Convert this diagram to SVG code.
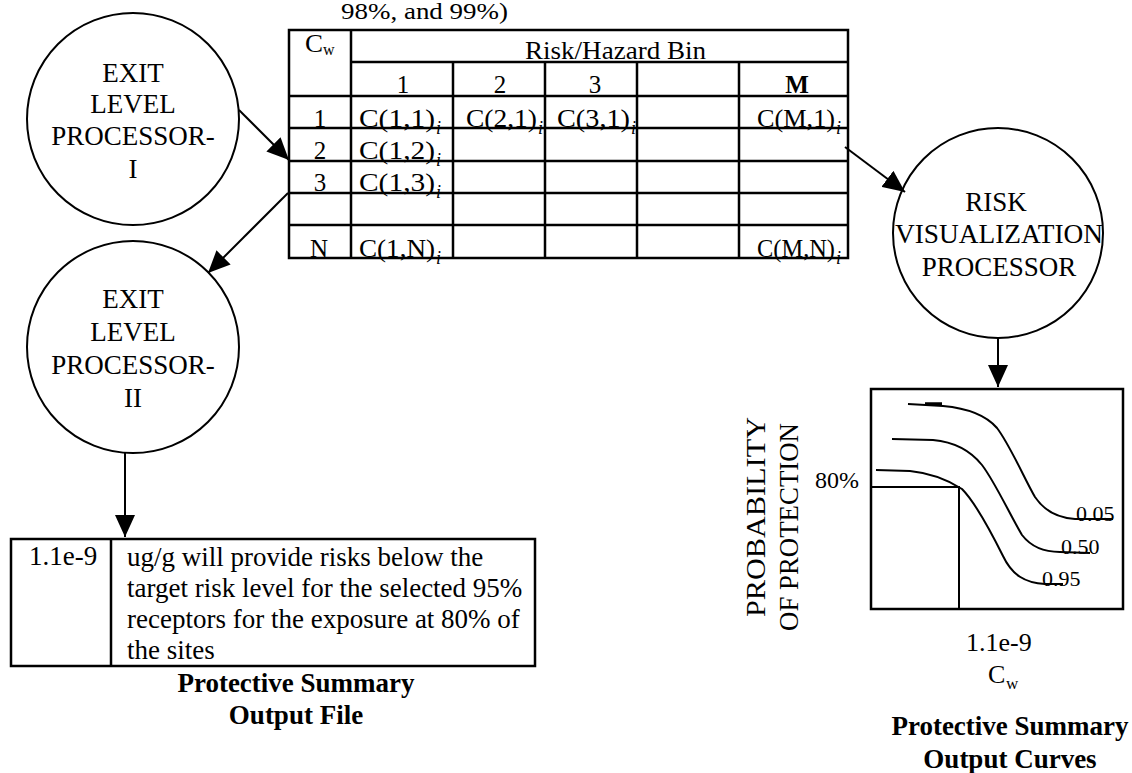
<svg xmlns="http://www.w3.org/2000/svg" width="1132" height="773" viewBox="0 0 1132 773" font-family="'Liberation Serif', 'Times New Roman', serif">
<style>
text{font-family:'Liberation Serif','Times New Roman',serif;fill:#000}
.t{font-size:25px}
.c{font-size:27px;text-anchor:middle}
.sub{font-size:18px;font-style:italic}
.b{font-size:27px;font-weight:bold;text-anchor:middle}
.tl{stroke:#000;stroke-width:2.5;fill:none}
.ln{stroke:#000;stroke-width:2;fill:none}
.cv{stroke:#000;stroke-width:2;fill:none;stroke-linejoin:round}
</style>
<defs>
<marker id="ah" markerWidth="22" markerHeight="20" refX="22" refY="10" orient="auto" markerUnits="userSpaceOnUse"><path d="M0,0 L22,10 L0,20 Z" fill="#000"/></marker>
</defs>
<rect width="1132" height="773" fill="#fff"/>

<g id="title"><text font-size="24" x="341" y="19" textLength="167" lengthAdjust="spacingAndGlyphs">98%, and 99%)</text></g>

<g id="table">
<path class="tl" d="M289,30 H848 V258 H289 Z M351,30 V258 M351,62 H848 M453,62 V258 M545,62 V258 M637,62 V258 M739,62 V258 M289,96 H848 M289,128 H848 M289,161 H848 M289,193 H848 M289,225 H848"/>
<text class="t" x="305" y="52" textLength="18" lengthAdjust="spacingAndGlyphs">C</text><text x="323" y="55" font-size="16">w</text>
<text class="t" x="525" y="59" textLength="181" lengthAdjust="spacingAndGlyphs">Risk/Hazard Bin</text>
<text class="t" x="403" y="93" text-anchor="middle">1</text>
<text class="t" x="500" y="93" text-anchor="middle">2</text>
<text class="t" x="595" y="93" text-anchor="middle">3</text>
<text class="t" x="797" y="93" text-anchor="middle" font-weight="bold">M</text>
<text class="t" x="320" y="127" text-anchor="middle">1</text>
<text class="t" x="320" y="159" text-anchor="middle">2</text>
<text class="t" x="320" y="191" text-anchor="middle">3</text>
<text class="t" x="319" y="257" text-anchor="middle">N</text>
<text class="t" x="359" y="127" textLength="76" lengthAdjust="spacingAndGlyphs">C(1,1)</text><text class="sub" x="436" y="134">i</text>
<text class="t" x="466" y="127" textLength="71" lengthAdjust="spacingAndGlyphs">C(2,1)</text><text class="sub" x="538" y="134">i</text>
<text class="t" x="557" y="127" textLength="73" lengthAdjust="spacingAndGlyphs">C(3,1)</text><text class="sub" x="631" y="134">i</text>
<text class="t" x="757" y="127" textLength="78" lengthAdjust="spacingAndGlyphs">C(M,1)</text><text class="sub" x="836" y="134">i</text>
<text class="t" x="359" y="159" textLength="76" lengthAdjust="spacingAndGlyphs">C(1,2)</text><text class="sub" x="436" y="166">i</text>
<text class="t" x="359" y="191" textLength="76" lengthAdjust="spacingAndGlyphs">C(1,3)</text><text class="sub" x="436" y="198">i</text>
<text class="t" x="359" y="257" textLength="76" lengthAdjust="spacingAndGlyphs">C(1,N)</text><text class="sub" x="436" y="264">i</text>
<text class="t" x="757" y="257" textLength="78" lengthAdjust="spacingAndGlyphs">C(M,N)</text><text class="sub" x="836" y="264">i</text>
</g>

<g id="exit1">
<circle class="ln" cx="133" cy="119" r="106"/>
<text class="c" x="133" y="82">EXIT</text>
<text class="c" x="133" y="113">LEVEL</text>
<text class="c" x="133" y="145">PROCESSOR-</text>
<text class="c" x="133" y="178">I</text>
</g>

<g id="exit2">
<circle class="ln" cx="133" cy="347" r="106"/>
<text class="c" x="133" y="308">EXIT</text>
<text class="c" x="133" y="341">LEVEL</text>
<text class="c" x="133" y="374">PROCESSOR-</text>
<text class="c" x="133" y="407">II</text>
</g>

<g id="riskvis">
<circle class="ln" cx="998" cy="233" r="105"/>
<text class="c" x="996" y="211">RISK</text>
<text class="c" x="999" y="243" textLength="208" lengthAdjust="spacingAndGlyphs">VISUALIZATION</text>
<text class="c" x="999" y="276">PROCESSOR</text>
</g>

<g id="outfile">
<rect class="tl" x="11" y="539" width="524" height="127"/>
<line class="tl" x1="111" y1="539" x2="111" y2="666"/>
<text font-size="27" x="29" y="565">1.1e-9</text>
<text font-size="27" x="127" y="566">ug/g will provide risks below the</text>
<text font-size="27" x="127" y="597">target risk level for the selected 95%</text>
<text font-size="27" x="127" y="628">receptors for the exposure at 80% of</text>
<text font-size="27" x="127" y="659">the sites</text>
<text class="b" x="296" y="692">Protective Summary</text>
<text class="b" x="296" y="724">Output File</text>
</g>

<g id="curves">
<rect class="tl" x="871" y="389" width="252" height="220"/>
<path class="ln" d="M871,487 H959 V609"/>
<path class="cv" d="M908,404 L943,406 C965,408 985,414 997,428 C1010,445 1025,480 1035,497 C1045,512 1060,518 1075,519 L1113,519"/>
<line x1="925" y1="404" x2="942" y2="404" stroke="#000" stroke-width="3.5"/>
<path class="cv" d="M892,439 L933,440 C955,442 970,450 982,465 C995,482 1010,515 1022,535 C1032,548 1045,552 1060,552 L1090,553"/>
<path class="cv" d="M876,470 L910,471 C930,473 948,480 962,489 C975,502 990,530 1003,556 C1012,575 1025,583 1045,584 L1063,584"/>
<text font-size="22" x="1076" y="521">0.05</text>
<text font-size="22" x="1061" y="554">0.50</text>
<text font-size="22" x="1042" y="586">0.95</text>
<text font-size="24" x="815" y="488">80%</text>
<text font-size="27" transform="translate(765,617) rotate(-90)" textLength="200" lengthAdjust="spacingAndGlyphs">PROBABILITY</text>
<text font-size="27" transform="translate(798,631) rotate(-90)" textLength="208" lengthAdjust="spacingAndGlyphs">OF PROTECTION</text>
<text font-size="26" x="966" y="651">1.1e-9</text>
<text font-size="26" x="988" y="683">C</text><text font-size="17" x="1006" y="689">w</text>
<text class="b" x="1010" y="735">Protective Summary</text>
<text class="b" x="1010" y="768">Output Curves</text>
</g>

<g id="connectors">
<line class="ln" x1="239" y1="110" x2="289" y2="160" marker-end="url(#ah)"/>
<line class="ln" x1="288" y1="193" x2="208" y2="273" marker-end="url(#ah)"/>
<line class="ln" x1="125" y1="453" x2="125" y2="537" marker-end="url(#ah)"/>
<line class="ln" x1="845" y1="147" x2="905" y2="192" marker-end="url(#ah)"/>
<line class="ln" x1="998" y1="338" x2="998" y2="387" marker-end="url(#ah)"/>
</g>
</svg>
